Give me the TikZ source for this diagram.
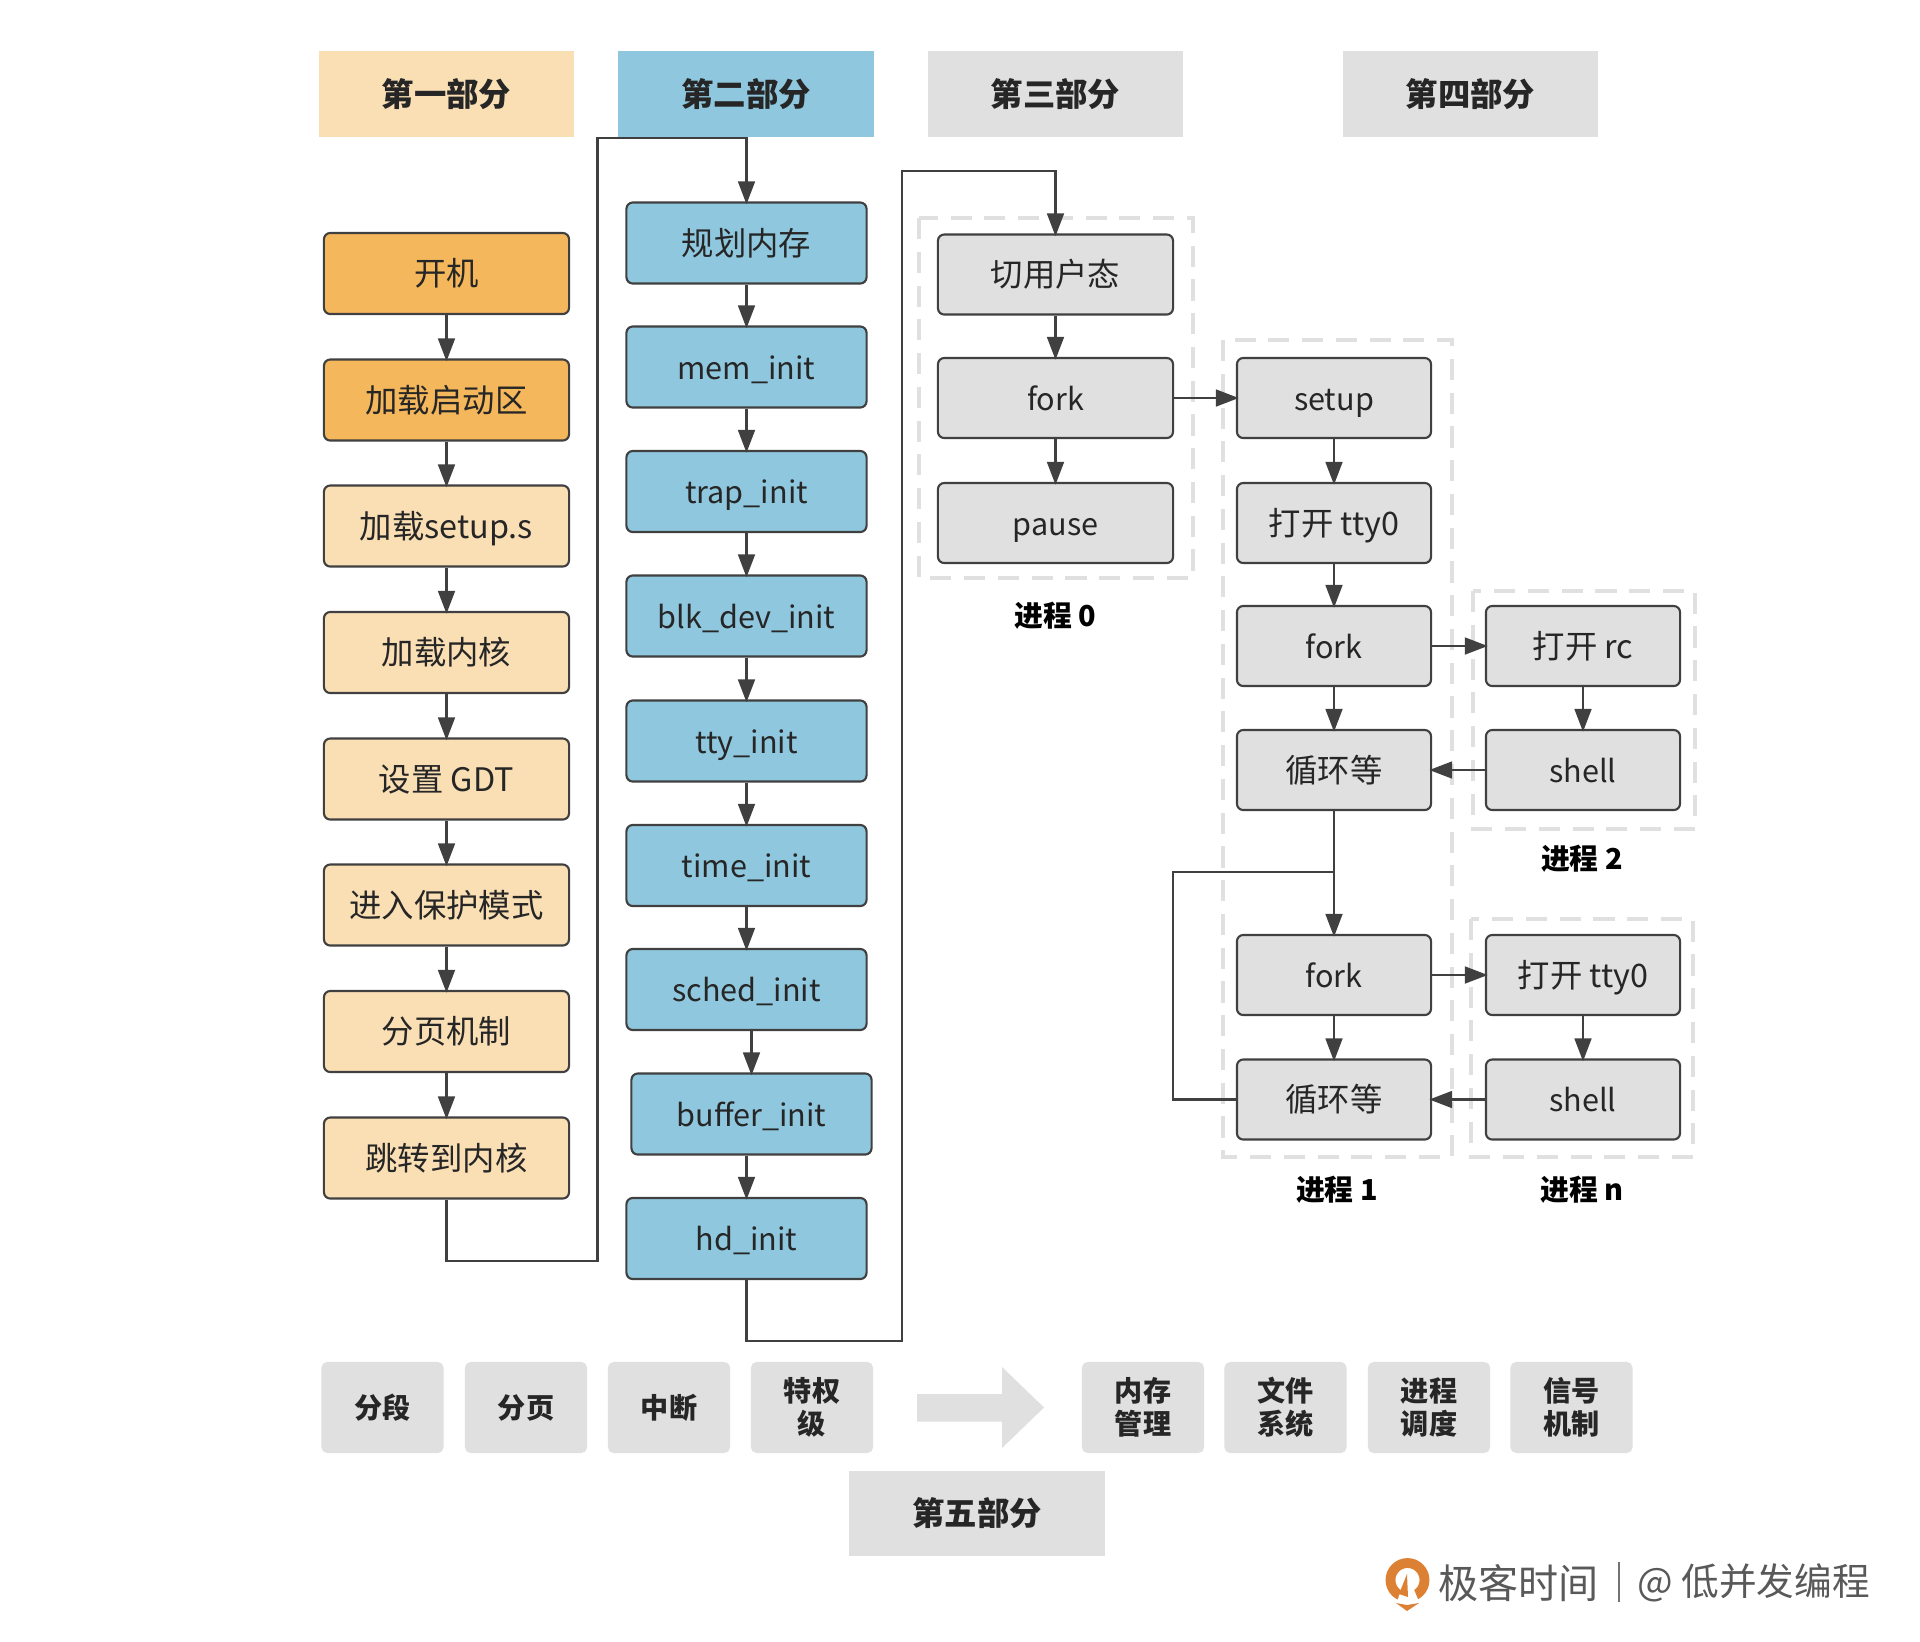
\documentclass[tikz,border=0pt]{standalone}
\usepackage{fontspec}
\setmainfont{Noto Sans CJK SC}
\usepackage{xcolor}
\usetikzlibrary{arrows.meta}
\definecolor{orangebox}{HTML}{F5B75C}
\definecolor{creambox}{HTML}{FADFB5}
\definecolor{bluebox}{HTML}{8FC8DE}
\definecolor{graybox}{HTML}{E0E0E0}
\definecolor{darkline}{HTML}{404040}
\definecolor{inktext}{HTML}{262626}
\definecolor{logored}{HTML}{DC8034}

\begin{document}
\begin{tikzpicture}[x=0.01cm,y=-0.01cm,
        flow/.style={draw=darkline,line width=0.6pt,rounded corners=1.8pt,text=inktext,font=\fontsize{9.2pt}{11pt}\selectfont,text height=8.1pt,text depth=1.1pt,inner sep=0pt,anchor=center},
        latin/.style={font=\fontsize{8.7pt}{11pt}\selectfont},
        oranged/.style={flow,fill=orangebox,minimum width=2.45cm,minimum height=0.81cm},
        creamed/.style={flow,fill=creambox,minimum width=2.45cm,minimum height=0.81cm},
        blued/.style={flow,fill=bluebox,minimum width=2.4cm,minimum height=0.81cm},
        wide/.style={flow,fill=graybox,minimum width=2.35cm,minimum height=0.8cm},
        narrow/.style={flow,fill=graybox,minimum width=1.94cm,minimum height=0.8cm},
        header/.style={minimum width=2.55cm,minimum height=0.85cm,inner sep=0pt,text=inktext,font=\fontsize{9.2pt}{11pt}\selectfont\bfseries},
        topic/.style={fill=graybox,rounded corners=1.6pt,minimum width=1.22cm,minimum height=0.91cm,inner sep=0pt,align=center,text=inktext,font=\fontsize{8pt}{9.4pt}\selectfont\bfseries},
        group/.style={draw=graybox,line width=1pt,dash pattern=on 6pt off 3.6pt},
        caption/.style={inner sep=0pt,text=black,font=\fontsize{8.2pt}{10pt}\selectfont\bfseries},
        link/.style={draw=darkline,line width=0.6pt,shorten >=-0.8pt,-{Triangle[length=6.5pt,width=4.8pt]}},
        wire/.style={draw=darkline,line width=0.6pt},
        brandtext/.style={inner sep=0pt,text=black!65,font=\fontsize{10.7pt}{13pt}\selectfont}]
    \useasboundingbox (0,0) rectangle (1920,1641);
    \fill[white] (0,0) rectangle (1920,1641);
    % headers
    \node[header,fill=creambox] (partone) at (446.5,94) {第一部分};
    \node[header,fill=bluebox] (parttwo) at (746,94) {第二部分};
    \node[header,fill=graybox] (partthree) at (1055.5,94) {第三部分};
    \node[header,fill=graybox] (partfour) at (1470.5,94) {第四部分};
    % dashed frames sit under the boxes
    \draw[group] (919,218) rectangle (1193,578);
    \draw[group] (1223,340) rectangle (1452,1157);
    \draw[group] (1473,591) rectangle (1695,829);
    \draw[group] (1471,919) rectangle (1693,1157);
    % first column
    \node[oranged] (boot) at (446.5,273.5) {开机};
    \node[oranged] (bootsect) at (446.5,400) {加载启动区};
    \node[creamed] (setups) at (446.5,526) {加载setup.s};
    \node[creamed] (kernel) at (446.5,652.5) {加载内核};
    \node[creamed] (gdt) at (446.5,779) {设置 GDT};
    \node[creamed] (protect) at (446.5,905) {进入保护模式};
    \node[creamed] (paging) at (446.5,1031.5) {分页机制};
    \node[creamed] (jump) at (446.5,1158) {跳转到内核};
    % second column
    \node[blued] (plan) at (746.5,243) {规划内存};
    \node[blued,latin] (mem) at (746.5,367) {mem\_init};
    \node[blued,latin] (trap) at (746.5,491.5) {trap\_init};
    \node[blued,latin] (blk) at (746.5,616) {blk\_dev\_init};
    \node[blued,latin] (tty) at (746.5,741) {tty\_init};
    \node[blued,latin] (timer) at (746.5,865.5) {time\_init};
    \node[blued,latin] (sched) at (746.5,989.5) {sched\_init};
    \node[blued,latin] (buffer) at (751.5,1114) {buffer\_init};
    \node[blued,latin] (hd) at (746.5,1238.5) {hd\_init};
    % process 0
    \node[wide] (user) at (1055.5,274.5) {切用户态};
    \node[wide,latin] (forkzero) at (1055.5,398) {fork};
    \node[wide,latin] (pause) at (1055.5,523) {pause};
    \node[caption] (capzero) at (1055.5,616) {进程 0};
    % process 1
    \node[narrow,latin] (setup) at (1334,398) {setup};
    \node[narrow] (openone) at (1334,523) {打开 tty0};
    \node[narrow,latin] (forkone) at (1334,646) {fork};
    \node[narrow] (loopone) at (1334,770) {循环等};
    \node[narrow,latin] (forkn) at (1334,975) {fork};
    \node[narrow] (loopn) at (1334,1099.5) {循环等};
    \node[caption] (capone) at (1337,1190) {进程 1};
    % process 2 and n
    \node[narrow] (openrc) at (1583,646) {打开 rc};
    \node[narrow,latin] (shelltwo) at (1583,770) {shell};
    \node[caption] (captwo) at (1582,859) {进程 2};
    \node[narrow] (opentty) at (1583,975) {打开 tty0};
    \node[narrow,latin] (shelln) at (1583,1099.5) {shell};
    \node[caption] (capn) at (1582,1190) {进程 n};
    % down the columns
    \draw[link] (boot) -- (bootsect);
    \draw[link] (bootsect) -- (setups);
    \draw[link] (setups) -- (kernel);
    \draw[link] (kernel) -- (gdt);
    \draw[link] (gdt) -- (protect);
    \draw[link] (protect) -- (paging);
    \draw[link] (paging) -- (jump);
    \draw[link] (plan) -- (mem);
    \draw[link] (mem) -- (trap);
    \draw[link] (trap) -- (blk);
    \draw[link] (blk) -- (tty);
    \draw[link] (tty) -- (timer);
    \draw[link] (timer) -- (sched);
    \draw[link] (sched.south -| buffer) -- (buffer);
    \draw[link] (buffer.south -| hd) -- (hd);
    \draw[link] (user) -- (forkzero);
    \draw[link] (forkzero) -- (pause);
    \draw[link] (setup) -- (openone);
    \draw[link] (openone) -- (forkone);
    \draw[link] (forkone) -- (loopone);
    \draw[link] (forkn) -- (loopn);
    \draw[link] (openrc) -- (shelltwo);
    \draw[link] (opentty) -- (shelln);
    % sideways
    \draw[link] (forkzero) -- (setup);
    \draw[link] (forkone) -- (openrc);
    \draw[link] (shelltwo) -- (loopone);
    \draw[link] (forkn) -- (opentty);
    \draw[link] (shelln) -- (loopn);
    % long runs
    \coordinate (joinone) at (597.5,1261);
    \coordinate (jointwo) at (597.5,138);
    \draw[link] (jump.south) |- (joinone) -- (jointwo) -| (plan.north);
    \coordinate (jointhree) at (902,1341);
    \coordinate (joinfour) at (902,171);
    \draw[link] (hd.south) |- (jointhree) -- (joinfour) -| (user.north);
    \coordinate (branch) at (1334,872);
    \coordinate (backleft) at (1173,872);
    \draw[link] (loopone) -- (forkn);
    \draw[wire] (loopn.west) -| (backleft) -- (branch);
    % bottom row
    \node[topic] (segment) at (382.5,1407.5) {分段};
    \node[topic] (pages) at (526,1407.5) {分页};
    \node[topic] (irq) at (669,1407.5) {中断};
    \node[topic] (ring) at (812,1407.5) {特权\\级};
    \fill[graybox] (917,1394) -- (1002,1394) -- (1002,1367) -- (1044,1407.5) -- (1002,1448) -- (1002,1421.5) -- (917,1421.5) -- cycle;
    \node[topic] (memory) at (1143,1407.5) {内存\\管理};
    \node[topic] (files) at (1285.5,1407.5) {文件\\系统};
    \node[topic] (tasks) at (1429,1407.5) {进程\\调度};
    \node[topic] (signal) at (1571.5,1407.5) {信号\\机制};
    \node[header,fill=graybox] (partfive) at (977,1513.5) {第五部分};
    % corner mark
    \draw[logored,line width=2.8pt] (1407.5,1580) circle (17);
    \fill[white] (1396,1604) -- (1403,1585) -- (1412,1585) -- (1420,1604) -- cycle;
    \fill[logored] (1399,1594) -- (1407,1574) -- (1408,1597) -- cycle;
    \fill[logored] (1396,1603) -- (1407,1605) -- (1419,1603) -- (1407,1611) -- cycle;
    \node[brandtext,anchor=west,font=\fontsize{11.4pt}{13pt}\selectfont] (brand) at (1438,1583) {极客时间};
    \node[brandtext,anchor=west] (author) at (1637,1583) {@ 低并发编程};
    \draw[black!55,line width=0.5pt] (1619,1562) -- (1619,1602);
\end{tikzpicture}
\end{document}
